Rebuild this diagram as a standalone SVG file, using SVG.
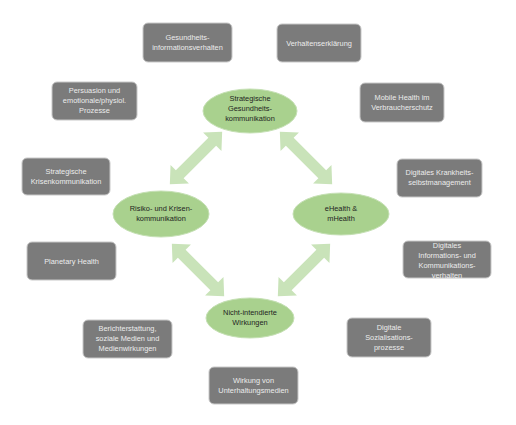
<svg xmlns="http://www.w3.org/2000/svg" width="516" height="425" viewBox="0 0 516 425">
<defs>
<style>
.box rect{fill:#7b7b7b;stroke:#c8c8c8;stroke-width:1}
.box text{fill:#ececec;font-family:"Liberation Sans",Arial,sans-serif;font-size:7.4px;text-anchor:middle}
.hub ellipse{fill:#a9d18e;stroke:#c5e0b4;stroke-width:1}
.hub text{fill:#1e1e1e;font-family:"Liberation Sans",Arial,sans-serif;font-size:7.4px;text-anchor:middle}
.arr{fill:#c9e3b9}
</style>
<polygon id="dbl" points="-37,0 -23,-13 -23,-5.5 23,-5.5 23,-13 37,0 23,13 23,5.5 -23,5.5 -23,13"/>
</defs>
<rect width="516" height="425" fill="#ffffff"/>
<g id="connectors" class="arr">
<use href="#dbl" transform="translate(196,158) rotate(-45)"/>
<use href="#dbl" transform="translate(306,158) rotate(45)"/>
<use href="#dbl" transform="translate(198,270) rotate(45)"/>
<use href="#dbl" transform="translate(304,270) rotate(-45)"/>
</g>
<g id="n-top" class="hub"><ellipse cx="250" cy="111" rx="47" ry="22"/><text x="250" y="101">Strategische</text><text x="250" y="111">Gesundheits-</text><text x="250" y="121">kommunikation</text></g>
<g id="n-left" class="hub"><ellipse cx="161" cy="214" rx="48" ry="23"/><text x="161" y="211">Risiko- und Krisen-</text><text x="161" y="221">kommunikation</text></g>
<g id="n-right" class="hub"><ellipse cx="341" cy="214" rx="48" ry="21"/><text x="341" y="211">eHealth &amp;</text><text x="341" y="221">mHealth</text></g>
<g id="n-bottom" class="hub"><ellipse cx="250" cy="318" rx="44" ry="20"/><text x="250" y="315">Nicht-intendierte</text><text x="250" y="325">Wirkungen</text></g>

<g id="b1" class="box"><rect x="143" y="23" width="89" height="39" rx="5"/><text x="187.5" y="40">Gesundheits-</text><text x="187.5" y="50">informationsverhalten</text></g>
<g id="b2" class="box"><rect x="277" y="24" width="84" height="38" rx="5"/><text x="319" y="45.5">Verhaltenserklärung</text></g>
<g id="b3" class="box"><rect x="52" y="82" width="85" height="38" rx="5"/><text x="94.5" y="93">Persuasion und</text><text x="94.5" y="103">emotionale/physiol.</text><text x="94.5" y="113">Prozesse</text></g>
<g id="b4" class="box"><rect x="360" y="83" width="84" height="39" rx="5"/><text x="402" y="100">Mobile Health im</text><text x="402" y="110">Verbraucherschutz</text></g>
<g id="b5" class="box"><rect x="22" y="158" width="88" height="37" rx="5"/><text x="66" y="174">Strategische</text><text x="66" y="184">Krisenkommunikation</text></g>
<g id="b6" class="box"><rect x="397" y="159" width="85" height="38" rx="5"/><text x="439.5" y="175">Digitales Krankheits-</text><text x="439.5" y="185">selbstmanagement</text></g>
<g id="b7" class="box"><rect x="403" y="241" width="88" height="37" rx="5"/><text x="447" y="248">Digitales</text><text x="447" y="258">Informations- und</text><text x="447" y="268">Kommunikations-</text><text x="447" y="278">verhalten</text></g>
<g id="b8" class="box"><rect x="27" y="242" width="89" height="38" rx="5"/><text x="71.5" y="263.5">Planetary Health</text></g>
<g id="b9" class="box"><rect x="83" y="320" width="89" height="38" rx="5"/><text x="127.5" y="331">Berichterstattung,</text><text x="127.5" y="341">soziale Medien und</text><text x="127.5" y="351">Medienwirkungen</text></g>
<g id="b10" class="box"><rect x="347" y="318" width="84" height="39" rx="5"/><text x="389" y="330">Digitale</text><text x="389" y="340">Sozialisations-</text><text x="389" y="350">prozesse</text></g>
<g id="b11" class="box"><rect x="209" y="367" width="89" height="37" rx="5"/><text x="253.5" y="383">Wirkung  von</text><text x="253.5" y="393">Unterhaltungsmedien</text></g>
</svg>
